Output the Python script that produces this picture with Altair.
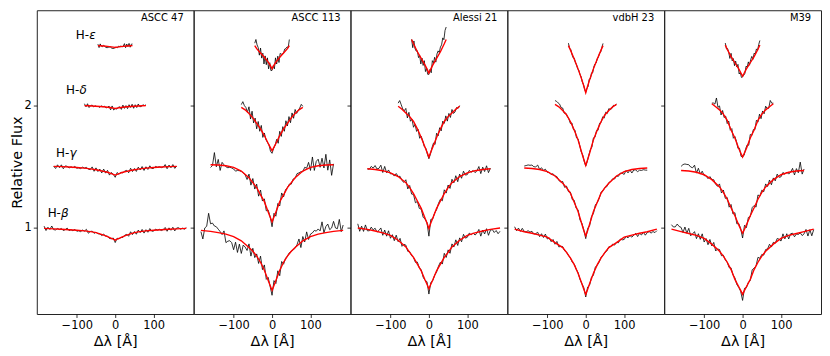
import altair as alt
import pandas as pd

FONT = "DejaVu Sans"
PANELS = ["ASCC 47", "ASCC 113", "Alessi 21", "vdbH 23", "M39"]
LINES = ["beta", "gamma", "delta", "epsilon"]
GREEK = ["β", "γ", "δ", "ε"]
OFFSETS = [0.0, 0.5, 1.0, 1.5]
LABEL_X = [-175.7, -154.0, -128.0, -102.6]
LABEL_Y = [1.118, 1.616, 2.127, 2.58]

# wavelength offsets (Angstrom) of observed spectra
X_OBS_BETA = list(range(-185, 186, 5))
X_OBS_GAMMA = list(range(-160, 161, 5))
X_OBS_DELTA = list(range(-80, 81, 4))
X_OBS_EPS = list(range(-45, 46, 3))
# wavelength offsets of model fits
X_FIT_BETA = [-185, -160, -140, -120, -100, -80, -60, -50, -40, -30, -20, -10, -5, 0,
              5, 10, 20, 30, 40, 50, 60, 80, 100, 120, 140, 160, 185]
X_FIT_GAMMA = [-160, -140, -120, -100, -80, -60, -50, -40, -30, -20, -10, -5, 0,
               5, 10, 20, 30, 40, 50, 60, 80, 100, 120, 140, 160]
X_FIT_DELTA = [-80, -70, -60, -50, -40, -30, -20, -10, -5, 0, 5, 10, 20, 30, 40, 50, 60, 70, 80]
X_FIT_EPS = [-45, -40, -30, -20, -10, -5, 0, 5, 10, 20, 30, 40, 45]

# ---------------- ASCC 47 ----------------
P1_OBS_BETA = [1.015, 0.979, 1.006, 0.988, 1.016, 0.986, 0.984, 0.996, 0.987, 0.996,
               0.979, 0.986, 0.999, 0.978, 0.986, 0.977, 0.989, 0.973, 0.977, 0.970,
               0.983, 0.974, 0.989, 0.957, 0.971, 0.974, 0.956, 0.966, 0.953, 0.951,
               0.938, 0.949, 0.934, 0.933, 0.914, 0.912, 0.918, 0.881, 0.916, 0.911,
               0.923, 0.922, 0.941, 0.948, 0.932, 0.969, 0.946, 0.971, 0.949, 0.983,
               0.962, 0.988, 0.958, 0.986, 0.965, 0.995, 0.974, 0.974, 0.991, 0.982,
               0.989, 0.979, 0.987, 1.004, 0.973, 1.001, 0.981, 1.006, 0.976, 1.000,
               1.002, 0.990, 0.998, 0.990, 1.003]
P1_OBS_GAMMA = [1.004, 0.986, 1.016, 0.993, 1.016, 0.984, 1.007, 1.004, 0.990, 1.000,
                0.992, 1.003, 0.988, 0.991, 0.985, 0.997, 0.989, 0.995, 0.981, 0.976,
                0.999, 0.963, 0.991, 0.961, 0.981, 0.950, 0.981, 0.948, 0.971, 0.932,
                0.953, 0.938, 0.914, 0.953, 0.938, 0.956, 0.950, 0.965, 0.971, 0.951,
                0.988, 0.961, 0.986, 0.962, 0.997, 0.974, 1.002, 0.970, 1.000, 0.978,
                1.008, 0.986, 0.987, 1.003, 0.996, 1.001, 0.993, 0.998, 1.018, 0.984,
                1.014, 0.992, 1.018, 0.987, 1.006]
P1_OBS_DELTA = [1.015, 0.990, 1.015, 0.984, 1.000, 1.004, 0.989, 0.998, 0.992, 0.993,
                0.985, 0.998, 0.989, 0.995, 0.981, 0.985, 0.996, 0.965, 0.997, 0.964,
                0.976, 0.971, 0.986, 0.990, 0.969, 1.004, 0.977, 1.000, 0.975, 1.007,
                0.985, 1.011, 0.978, 1.007, 0.984, 1.013, 0.991, 0.992, 1.007, 1.000,
                1.006]
P1_OBS_EPS = [1.002, 0.974, 1.004, 0.985, 0.981, 0.992, 0.983, 0.975, 0.973, 0.976,
              0.978, 0.980, 0.967, 0.968, 0.967, 0.976, 0.976, 0.973, 0.986, 0.982,
              0.987, 0.980, 0.986, 1.006, 0.973, 1.003, 0.982, 1.008, 0.977, 1.002,
              1.003]
P1_FIT_BETA = [0.997, 0.993, 0.989, 0.985, 0.981, 0.976, 0.968, 0.962, 0.952, 0.941,
               0.929, 0.915, 0.908, 0.900, 0.908, 0.915, 0.929, 0.941, 0.952, 0.962,
               0.968, 0.976, 0.981, 0.985, 0.989, 0.993, 0.997]
P1_FIT_GAMMA = [1.003, 1.001, 0.998, 0.994, 0.989, 0.981, 0.976, 0.970, 0.963, 0.955,
                0.944, 0.938, 0.932, 0.938, 0.944, 0.955, 0.963, 0.970, 0.976, 0.981,
                0.989, 0.994, 0.998, 1.001, 1.003]
P1_FIT_DELTA = [1.0, 0.999, 0.997, 0.995, 0.993, 0.990, 0.986, 0.982, 0.979, 0.976,
                0.979, 0.982, 0.986, 0.990, 0.993, 0.995, 0.997, 0.999, 1.0]
P1_FIT_EPS = [0.99, 0.989, 0.987, 0.984, 0.980, 0.978, 0.975, 0.978, 0.980, 0.984, 0.987, 0.989, 0.99]

# ---------------- ASCC 113 ----------------
P2_OBS_BETA = [0.970, 0.910, 1.000, 1.014, 1.120, 1.034, 1.040, 1.016, 1.010, 0.990,
               0.970, 0.946, 0.976, 0.880, 0.892, 0.896, 0.880, 0.822, 0.884, 0.800,
               0.868, 0.792, 0.860, 0.844, 0.816, 0.870, 0.770, 0.834, 0.758, 0.788,
               0.710, 0.770, 0.660, 0.698, 0.580, 0.596, 0.522, 0.450, 0.570, 0.546,
               0.650, 0.610, 0.726, 0.704, 0.752, 0.770, 0.798, 0.808, 0.820, 0.836,
               0.864, 0.910, 0.840, 0.930, 0.886, 0.968, 0.906, 0.950, 0.960, 0.980,
               0.974, 0.992, 0.976, 1.050, 0.960, 1.012, 1.032, 0.986, 1.000, 1.054,
               1.000, 0.994, 1.070, 0.970, 1.024]
P2_OBS_GAMMA = [0.994, 1.010, 1.116, 1.000, 1.060, 0.970, 1.036, 1.016, 1.000, 0.992,
                0.996, 0.990, 0.982, 0.964, 0.970, 0.968, 0.962, 0.950, 0.934, 0.896,
                0.940, 0.850, 0.904, 0.818, 0.858, 0.760, 0.810, 0.720, 0.738, 0.640,
                0.646, 0.592, 0.510, 0.620, 0.596, 0.700, 0.680, 0.786, 0.754, 0.812,
                0.830, 0.858, 0.858, 0.900, 0.906, 0.944, 0.950, 0.960, 0.960, 0.996,
                0.988, 1.036, 0.970, 1.080, 0.970, 1.044, 1.062, 0.996, 1.070, 0.990,
                1.102, 0.972, 1.056, 0.930, 1.024]
P2_OBS_DELTA = [1.008, 1.032, 1.000, 0.984, 0.946, 0.990, 0.890, 0.954, 0.858, 0.898,
                0.810, 0.870, 0.790, 0.838, 0.740, 0.776, 0.722, 0.700, 0.680, 0.626,
                0.610, 0.650, 0.676, 0.724, 0.692, 0.790, 0.748, 0.828, 0.790, 0.876,
                0.834, 0.910, 0.860, 0.940, 0.896, 0.968, 0.936, 0.960, 0.980, 1.010,
                0.994]
P2_OBS_EPS = [1.010, 1.040, 0.996, 0.974, 0.912, 0.970, 0.888, 0.928, 0.840, 0.906,
              0.834, 0.890, 0.800, 0.850, 0.786, 0.788, 0.826, 0.800, 0.890, 0.840,
              0.904, 0.852, 0.926, 0.920, 0.920, 0.932, 0.962, 0.966, 0.980, 0.974,
              1.040]
P2_FIT_BETA = [0.98, 0.972, 0.962, 0.95, 0.93, 0.895, 0.84, 0.81, 0.77, 0.72,
               0.655, 0.57, 0.53, 0.49, 0.53, 0.57, 0.655, 0.72, 0.77, 0.81,
               0.84, 0.895, 0.93, 0.95, 0.962, 0.972, 0.98]
P2_FIT_GAMMA = [1.016, 1.014, 1.008, 0.995, 0.965, 0.91, 0.87, 0.83, 0.77, 0.715,
                0.63, 0.59, 0.55, 0.59, 0.63, 0.715, 0.77, 0.83, 0.87, 0.91,
                0.965, 0.995, 1.008, 1.014, 1.016]
P2_FIT_DELTA = [0.985, 0.965, 0.935, 0.90, 0.855, 0.81, 0.755, 0.69, 0.66, 0.63,
                0.66, 0.69, 0.755, 0.81, 0.855, 0.90, 0.935, 0.965, 0.985]
P2_FIT_EPS = [0.99, 0.965, 0.93, 0.895, 0.855, 0.83, 0.80, 0.83, 0.855, 0.895, 0.93, 0.965, 0.99]

# ---------------- Alessi 21 ----------------
P3_OBS_BETA = [1.034, 0.973, 1.015, 0.972, 1.025, 0.977, 0.977, 1.007, 0.984, 0.998,
               0.966, 0.980, 1.000, 0.940, 0.983, 0.933, 0.977, 0.916, 0.945, 0.896,
               0.941, 0.888, 0.915, 0.850, 0.866, 0.860, 0.809, 0.807, 0.773, 0.759,
               0.719, 0.721, 0.674, 0.660, 0.598, 0.572, 0.561, 0.460, 0.555, 0.570,
               0.614, 0.640, 0.688, 0.721, 0.705, 0.793, 0.759, 0.821, 0.793, 0.870,
               0.844, 0.903, 0.857, 0.919, 0.887, 0.948, 0.917, 0.924, 0.958, 0.944,
               0.960, 0.942, 0.957, 0.988, 0.933, 0.983, 0.951, 0.994, 0.940, 0.982,
               0.987, 0.963, 0.979, 0.953, 0.973]
P3_OBS_GAMMA = [0.983, 0.980, 1.003, 0.989, 1.010, 0.982, 0.987, 1.013, 0.953, 1.003,
                0.951, 0.974, 0.942, 0.944, 0.924, 0.945, 0.921, 0.922, 0.887, 0.873,
                0.894, 0.819, 0.847, 0.777, 0.774, 0.706, 0.717, 0.660, 0.654, 0.588,
                0.572, 0.544, 0.433, 0.570, 0.575, 0.623, 0.650, 0.701, 0.735, 0.722,
                0.812, 0.785, 0.851, 0.823, 0.898, 0.869, 0.927, 0.878, 0.940, 0.906,
                0.964, 0.932, 0.936, 0.970, 0.955, 0.970, 0.952, 0.967, 1.002, 0.944,
                0.997, 0.961, 1.008, 0.952, 0.989]
P3_OBS_DELTA = [1.020, 1.041, 1.007, 0.972, 0.958, 0.977, 0.899, 0.945, 0.872, 0.889,
                0.823, 0.847, 0.789, 0.805, 0.733, 0.749, 0.713, 0.664, 0.652, 0.603,
                0.566, 0.603, 0.656, 0.694, 0.682, 0.774, 0.752, 0.819, 0.793, 0.873,
                0.855, 0.916, 0.873, 0.936, 0.903, 0.968, 0.936, 0.948, 0.984, 0.977,
                1.000]
P3_OBS_EPS = [1.041, 0.973, 1.028, 0.964, 0.945, 0.947, 0.892, 0.909, 0.840, 0.888,
              0.828, 0.867, 0.778, 0.806, 0.755, 0.755, 0.796, 0.768, 0.867, 0.849,
              0.895, 0.855, 0.922, 0.947, 0.933, 0.978, 0.996, 1.053, 1.038, 1.114,
              1.142]
P3_FIT_BETA = [1.0, 0.988, 0.975, 0.96, 0.94, 0.90, 0.845, 0.80, 0.76, 0.705,
               0.65, 0.575, 0.54, 0.503, 0.54, 0.575, 0.65, 0.705, 0.76, 0.80,
               0.845, 0.90, 0.94, 0.96, 0.975, 0.988, 1.0]
P3_FIT_GAMMA = [0.984, 0.978, 0.968, 0.95, 0.92, 0.87, 0.83, 0.78, 0.72, 0.66,
                0.58, 0.54, 0.495, 0.54, 0.58, 0.66, 0.72, 0.78, 0.83, 0.87,
                0.92, 0.95, 0.968, 0.978, 0.984]
P3_FIT_DELTA = [0.995, 0.97, 0.94, 0.91, 0.87, 0.81, 0.74, 0.66, 0.62, 0.58,
                0.62, 0.66, 0.74, 0.81, 0.87, 0.91, 0.94, 0.97, 0.995]
P3_FIT_EPS = [1.04, 1.005, 0.94, 0.885, 0.83, 0.80, 0.765, 0.80, 0.83, 0.885, 0.94, 1.005, 1.04]

# ---------------- vdbH 23 ----------------
P4_OBS_BETA = [1.010, 0.978, 0.999, 0.972, 0.997, 0.972, 0.968, 0.978, 0.966, 0.973,
               0.950, 0.954, 0.965, 0.929, 0.953, 0.922, 0.950, 0.910, 0.920, 0.888,
               0.906, 0.867, 0.890, 0.845, 0.850, 0.848, 0.814, 0.803, 0.775, 0.755,
               0.720, 0.707, 0.664, 0.635, 0.580, 0.544, 0.512, 0.436, 0.518, 0.533,
               0.598, 0.614, 0.680, 0.696, 0.722, 0.762, 0.776, 0.800, 0.812, 0.846,
               0.849, 0.868, 0.860, 0.882, 0.879, 0.909, 0.903, 0.906, 0.932, 0.919,
               0.938, 0.925, 0.941, 0.956, 0.930, 0.956, 0.943, 0.965, 0.941, 0.962,
               0.970, 0.958, 0.971, 0.962, 0.978]
P4_OBS_GAMMA = [1.006, 1.010, 1.015, 1.012, 1.014, 1.000, 0.999, 1.014, 0.978, 0.992,
                0.970, 0.980, 0.955, 0.954, 0.936, 0.943, 0.925, 0.920, 0.890, 0.874,
                0.880, 0.832, 0.842, 0.797, 0.794, 0.732, 0.726, 0.662, 0.649, 0.566,
                0.538, 0.483, 0.413, 0.496, 0.518, 0.594, 0.618, 0.688, 0.708, 0.741,
                0.793, 0.805, 0.831, 0.838, 0.871, 0.880, 0.902, 0.900, 0.924, 0.922,
                0.949, 0.946, 0.938, 0.970, 0.950, 0.974, 0.949, 0.974, 0.974, 0.960,
                0.972, 0.970, 0.976, 0.973, 0.972]
P4_OBS_DELTA = [1.041, 1.035, 1.022, 1.012, 0.983, 0.980, 0.938, 0.938, 0.911, 0.893,
                0.854, 0.858, 0.804, 0.799, 0.736, 0.728, 0.679, 0.624, 0.598, 0.545,
                0.506, 0.544, 0.596, 0.640, 0.661, 0.736, 0.741, 0.795, 0.798, 0.856,
                0.862, 0.908, 0.898, 0.946, 0.935, 0.975, 0.968, 0.976, 1.002, 1.000,
                1.012]
P4_OBS_EPS = [1.010, 0.966, 0.960, 0.920, 0.891, 0.888, 0.853, 0.833, 0.801, 0.788,
              0.755, 0.736, 0.692, 0.673, 0.634, 0.609, 0.640, 0.655, 0.716, 0.718,
              0.767, 0.767, 0.817, 0.840, 0.848, 0.883, 0.897, 0.928, 0.938, 0.977,
              1.008]
P4_FIT_BETA = [0.99, 0.969, 0.957, 0.942, 0.925, 0.88, 0.84, 0.80, 0.755, 0.70,
               0.63, 0.545, 0.50, 0.457, 0.50, 0.545, 0.63, 0.70, 0.755, 0.80,
               0.84, 0.88, 0.925, 0.942, 0.957, 0.969, 0.99]
P4_FIT_GAMMA = [0.99, 0.986, 0.978, 0.96, 0.925, 0.865, 0.83, 0.785, 0.71, 0.635,
                0.53, 0.48, 0.435, 0.48, 0.53, 0.635, 0.71, 0.785, 0.83, 0.865,
                0.925, 0.96, 0.978, 0.986, 0.99]
P4_FIT_DELTA = [1.01, 0.99, 0.96, 0.925, 0.87, 0.80, 0.72, 0.61, 0.56, 0.51,
                0.56, 0.61, 0.72, 0.80, 0.87, 0.925, 0.96, 0.99, 1.01]
P4_FIT_EPS = [0.99, 0.955, 0.88, 0.80, 0.71, 0.66, 0.605, 0.66, 0.71, 0.80, 0.88, 0.955, 0.99]

# ---------------- M39 ----------------
P5_OBS_BETA = [1.027, 1.008, 1.009, 1.032, 1.012, 1.005, 0.963, 1.008, 0.957, 0.997,
               0.936, 0.952, 0.970, 0.913, 0.953, 0.907, 0.952, 0.885, 0.914, 0.863,
               0.906, 0.853, 0.882, 0.812, 0.828, 0.824, 0.773, 0.777, 0.739, 0.721,
               0.676, 0.674, 0.617, 0.592, 0.538, 0.515, 0.483, 0.408, 0.507, 0.513,
               0.556, 0.570, 0.658, 0.672, 0.690, 0.760, 0.752, 0.784, 0.778, 0.824,
               0.828, 0.867, 0.844, 0.883, 0.875, 0.914, 0.908, 0.893, 0.952, 0.911,
               0.953, 0.910, 0.953, 0.957, 0.928, 0.951, 0.947, 0.960, 0.938, 0.952,
               0.988, 0.934, 0.986, 0.936, 0.987]
P5_OBS_GAMMA = [1.003, 1.018, 1.023, 1.019, 1.017, 0.998, 0.992, 1.013, 0.948, 0.988,
                0.940, 0.964, 0.928, 0.926, 0.903, 0.920, 0.896, 0.894, 0.856, 0.841,
                0.860, 0.786, 0.810, 0.742, 0.749, 0.670, 0.692, 0.614, 0.625, 0.534,
                0.537, 0.495, 0.418, 0.522, 0.503, 0.586, 0.593, 0.666, 0.684, 0.670,
                0.770, 0.759, 0.809, 0.796, 0.860, 0.839, 0.892, 0.853, 0.909, 0.885,
                0.940, 0.914, 0.918, 0.954, 0.939, 0.957, 0.940, 0.957, 0.987, 0.933,
                0.985, 0.951, 1.038, 0.940, 0.982]
P5_OBS_DELTA = [1.020, 1.021, 1.012, 1.062, 0.986, 0.997, 0.923, 0.960, 0.902, 0.914,
                0.853, 0.874, 0.799, 0.812, 0.733, 0.747, 0.708, 0.650, 0.652, 0.585,
                0.581, 0.593, 0.648, 0.679, 0.676, 0.764, 0.755, 0.804, 0.803, 0.880,
                0.865, 0.930, 0.893, 0.956, 0.933, 0.995, 0.976, 0.978, 1.042, 1.019,
                1.020]
P5_OBS_EPS = [1.011, 0.963, 0.966, 0.934, 0.885, 0.927, 0.865, 0.884, 0.826, 0.863,
              0.815, 0.837, 0.758, 0.771, 0.730, 0.735, 0.748, 0.763, 0.822, 0.814,
              0.857, 0.830, 0.875, 0.902, 0.878, 0.928, 0.921, 0.963, 0.953, 0.999,
              1.032]
P5_FIT_BETA = [0.99, 0.97, 0.955, 0.94, 0.915, 0.868, 0.81, 0.77, 0.72, 0.66,
               0.58, 0.52, 0.49, 0.457, 0.49, 0.52, 0.58, 0.66, 0.72, 0.77,
               0.81, 0.868, 0.915, 0.94, 0.955, 0.97, 0.99]
P5_FIT_GAMMA = [0.97, 0.965, 0.955, 0.935, 0.895, 0.835, 0.79, 0.735, 0.665, 0.60,
                0.525, 0.49, 0.457, 0.49, 0.525, 0.60, 0.665, 0.735, 0.79, 0.835,
                0.895, 0.935, 0.955, 0.965, 0.97]
P5_FIT_DELTA = [1.015, 0.99, 0.965, 0.93, 0.88, 0.80, 0.735, 0.65, 0.615, 0.58,
                0.615, 0.65, 0.735, 0.80, 0.88, 0.93, 0.965, 0.99, 1.015]
P5_FIT_EPS = [0.995, 0.96, 0.90, 0.85, 0.80, 0.77, 0.74, 0.77, 0.80, 0.85, 0.90, 0.96, 0.995]

X_OBS = [X_OBS_BETA, X_OBS_GAMMA, X_OBS_DELTA, X_OBS_EPS]
X_FIT = [X_FIT_BETA, X_FIT_GAMMA, X_FIT_DELTA, X_FIT_EPS]
OBS = [
    [P1_OBS_BETA, P1_OBS_GAMMA, P1_OBS_DELTA, P1_OBS_EPS],
    [P2_OBS_BETA, P2_OBS_GAMMA, P2_OBS_DELTA, P2_OBS_EPS],
    [P3_OBS_BETA, P3_OBS_GAMMA, P3_OBS_DELTA, P3_OBS_EPS],
    [P4_OBS_BETA, P4_OBS_GAMMA, P4_OBS_DELTA, P4_OBS_EPS],
    [P5_OBS_BETA, P5_OBS_GAMMA, P5_OBS_DELTA, P5_OBS_EPS],
]
FIT = [
    [P1_FIT_BETA, P1_FIT_GAMMA, P1_FIT_DELTA, P1_FIT_EPS],
    [P2_FIT_BETA, P2_FIT_GAMMA, P2_FIT_DELTA, P2_FIT_EPS],
    [P3_FIT_BETA, P3_FIT_GAMMA, P3_FIT_DELTA, P3_FIT_EPS],
    [P4_FIT_BETA, P4_FIT_GAMMA, P4_FIT_DELTA, P4_FIT_EPS],
    [P5_FIT_BETA, P5_FIT_GAMMA, P5_FIT_DELTA, P5_FIT_EPS],
]

rows = []
for pi, pname in enumerate(PANELS):
    for li, line in enumerate(LINES):
        for kind, xs, ys in (("obs", X_OBS[li], OBS[pi][li]), ("fit", X_FIT[li], FIT[pi][li])):
            if len(xs) != len(ys):
                raise ValueError(f"{pname} {line} {kind}: {len(xs)} x vs {len(ys)} y")
            for x, v in zip(xs, ys):
                rows.append({"panel": pname, "line": line, "kind": kind, "x": x, "y": v + OFFSETS[li]})
df = pd.DataFrame(rows)

labels_df = pd.DataFrame({"x": LABEL_X, "y": LABEL_Y, "h": ["H-"] * 4, "g": GREEK})

W, H = 158, 306
XS = alt.Scale(domain=[-204, 204], nice=False, zero=False)
YS = alt.Scale(domain=[0.297, 2.779], nice=False, zero=False)


def make_panel(pi):
    pname = PANELS[pi]
    first = pi == 0
    d = df[df["panel"] == pname]
    xenc = alt.X("x:Q", scale=XS, axis=alt.Axis(values=[-100, 0, 100]), title="Δλ [Å]")
    if first:
        yenc = alt.Y("y:Q", scale=YS, axis=alt.Axis(values=[1, 2], format="d"), title="Relative Flux")
    else:
        yenc = alt.Y("y:Q", scale=YS, axis=alt.Axis(values=[1, 2], labels=False), title=None)
    obs = alt.Chart(d).transform_filter("datum.kind == 'obs'").mark_line(
        color="black", strokeWidth=0.8).encode(x=xenc, y=yenc, detail="line:N")
    fit = alt.Chart(d).transform_filter("datum.kind == 'fit'").mark_line(
        color="#ff0000", strokeWidth=1.4).encode(x=xenc, y=yenc, detail="line:N")
    name = alt.Chart(pd.DataFrame({"t": [pname]})).mark_text(
        align="right", baseline="top", fontSize=10, font=FONT, color="black").encode(
        x=alt.value(W - 10), y=alt.value(3), text="t:N")
    layers = [obs, fit, name]
    if first:
        hl = alt.Chart(labels_df).mark_text(
            align="left", baseline="middle", fontSize=12, font=FONT, color="black").encode(
            x=xenc, y=yenc, text="h:N")
        gl = alt.Chart(labels_df).mark_text(
            align="left", baseline="middle", fontSize=12, font=FONT, fontStyle="italic",
            color="black", dx=13.5).encode(x=xenc, y=yenc, text="g:N")
        layers += [hl, gl]
    return alt.layer(*layers).properties(width=W, height=H)


chart = alt.hconcat(*[make_panel(i) for i in range(5)], spacing=0, bounds="flush").properties(
    padding={"left": 0, "right": 0, "top": 0, "bottom": 0}
).configure_view(
    stroke="#222222", strokeWidth=1
).configure_axis(
    domain=False, grid=False, tickColor="black", tickSize=3.5, tickWidth=0.8,
    labelFont=FONT, titleFont=FONT, labelFontSize=11.5, titleFontSize=14.5,
    labelColor="black", titleColor="black", titleFontWeight="normal", labelPadding=2
).configure_axisX(titlePadding=4).configure_axisY(titlePadding=0)

chart.save("out.html", embed_options={"renderer": "svg", "actions": False})
